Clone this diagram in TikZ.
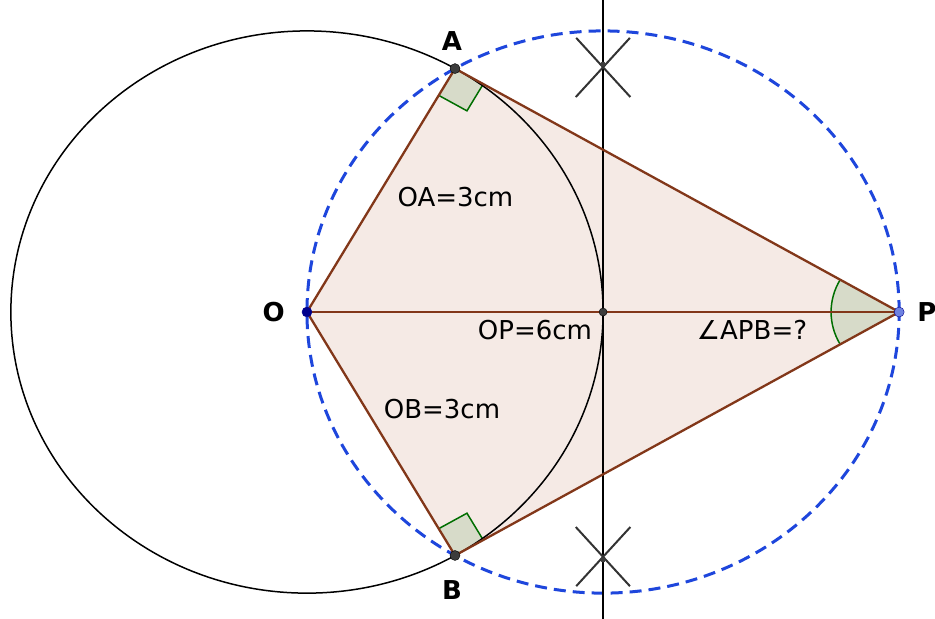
\documentclass[tikz,border=0pt]{standalone}
\usepackage{fontspec}
\setmainfont{DejaVu Sans}
\usetikzlibrary{calc,positioning}
\definecolor{PolyBrown}{RGB}{153,51,0}
\definecolor{EdgeBrown}{RGB}{130,55,25}
\definecolor{CircleBlue}{RGB}{30,70,220}
\definecolor{AngleGreen}{RGB}{0,110,0}
\definecolor{PointBlue}{RGB}{0,0,140}
\definecolor{PointLight}{RGB}{110,130,225}
\definecolor{PointGrey}{RGB}{60,60,60}

\begin{document}
\begin{tikzpicture}[
    x=98.7pt, y=93.7pt,
    edge/.style={EdgeBrown, line width=2.3pt},
    circ/.style={black, line width=1.5pt},
    dashcirc/.style={CircleBlue, line width=3pt, dash pattern=on 12pt off 7pt},
    bisect/.style={black, line width=2pt},
    compass/.style={black!80, line width=2pt},
    anglefill/.style={AngleGreen, fill opacity=0.12},
    anglemark/.style={AngleGreen, line width=1.5pt},
    lab/.style={inner sep=0pt, font=\fontsize{26}{31}\selectfont},
    node distance=20pt
]
    \useasboundingbox (-3.110,-3.276) rectangle (6.363,3.330);

    \coordinate (O) at (0,0);
    \coordinate (P) at (6,0);
    \coordinate (M) at (3,0);
    \coordinate (A) at (1.5,2.598);
    \coordinate (B) at (1.5,-2.598);
    \coordinate (top) at (3,3.33);
    \coordinate (bot) at (3,-3.28);
    \coordinate (X1) at (3,2.646);
    \coordinate (X2) at (3,-2.646);

    % kite
    \fill[PolyBrown, fill opacity=0.1] (O) -- (A) -- (P) -- (B) -- cycle;

    % right angles and angle at P
    \fill[anglefill] (A) -- ++(-0.165,-0.286) -- ++(0.286,-0.165) -- ++(0.165,0.286) -- cycle;
    \draw[anglemark] (A) ++(-0.165,-0.286) -- ++(0.286,-0.165) -- ++(0.165,0.286);
    \fill[anglefill] (B) -- ++(-0.165,0.286) -- ++(0.286,0.165) -- ++(0.165,-0.286) -- cycle;
    \draw[anglemark] (B) ++(-0.165,0.286) -- ++(0.286,0.165) -- ++(0.165,-0.286);
    \fill[anglefill] (P) -- ++(150:0.69) arc[start angle=150, end angle=210, radius=0.69] -- cycle;
    \draw[anglemark] (P) ++(150:0.69) arc[start angle=150, end angle=210, radius=0.69];

    % circles
    \draw[circ] (O) circle[radius=3];
    \draw[dashcirc] (M) circle[radius=3];

    % perpendicular bisector
    \draw[bisect] (top) -- (bot);
    \draw[compass] ($(O)+(35:4)$) -- ($(O)+(47:4)$);
    \draw[compass] ($(P)+(133:4)$) -- ($(P)+(145:4)$);
    \draw[compass] ($(O)+(-47:4)$) -- ($(O)+(-35:4)$);
    \draw[compass] ($(P)+(215:4)$) -- ($(P)+(227:4)$);

    % sides
    \draw[edge] (O) -- (A) -- (P) -- (B) -- cycle;
    \draw[edge] (O) -- (P);

    % points
    \fill[PointGrey] (X1) circle[radius=2.5pt];
    \fill[PointGrey] (X2) circle[radius=2.5pt];
    \filldraw[PointGrey, draw=black] (M) circle[radius=4pt];
    \filldraw[PointGrey, draw=black] (A) circle[radius=5pt];
    \filldraw[PointGrey, draw=black] (B) circle[radius=5pt];
    \filldraw[PointBlue, draw=PointBlue] (O) circle[radius=5pt];
    \filldraw[PointLight, draw=PointBlue] (P) circle[radius=5pt];

    % labels
    \node[lab, left=22pt of O] (labO) {\bfseries O};
    \node[lab, right=18pt of P] (labP) {\bfseries P};
    \node[lab, above=18pt of A, xshift=-3pt] (labA) {\bfseries A};
    \node[lab, below=25pt of B, xshift=-3pt] (labB) {\bfseries B};
    \node[lab] (oa) at (1.504,1.227) {OA=3cm};
    \node[lab] (op) at (2.310,-0.192) {OP=6cm};
    \node[lab] (ob) at (1.368,-1.036) {OB=3cm};
    \node[lab] (apb) at (4.509,-0.192) {∠APB=?};
\end{tikzpicture}
\end{document}
